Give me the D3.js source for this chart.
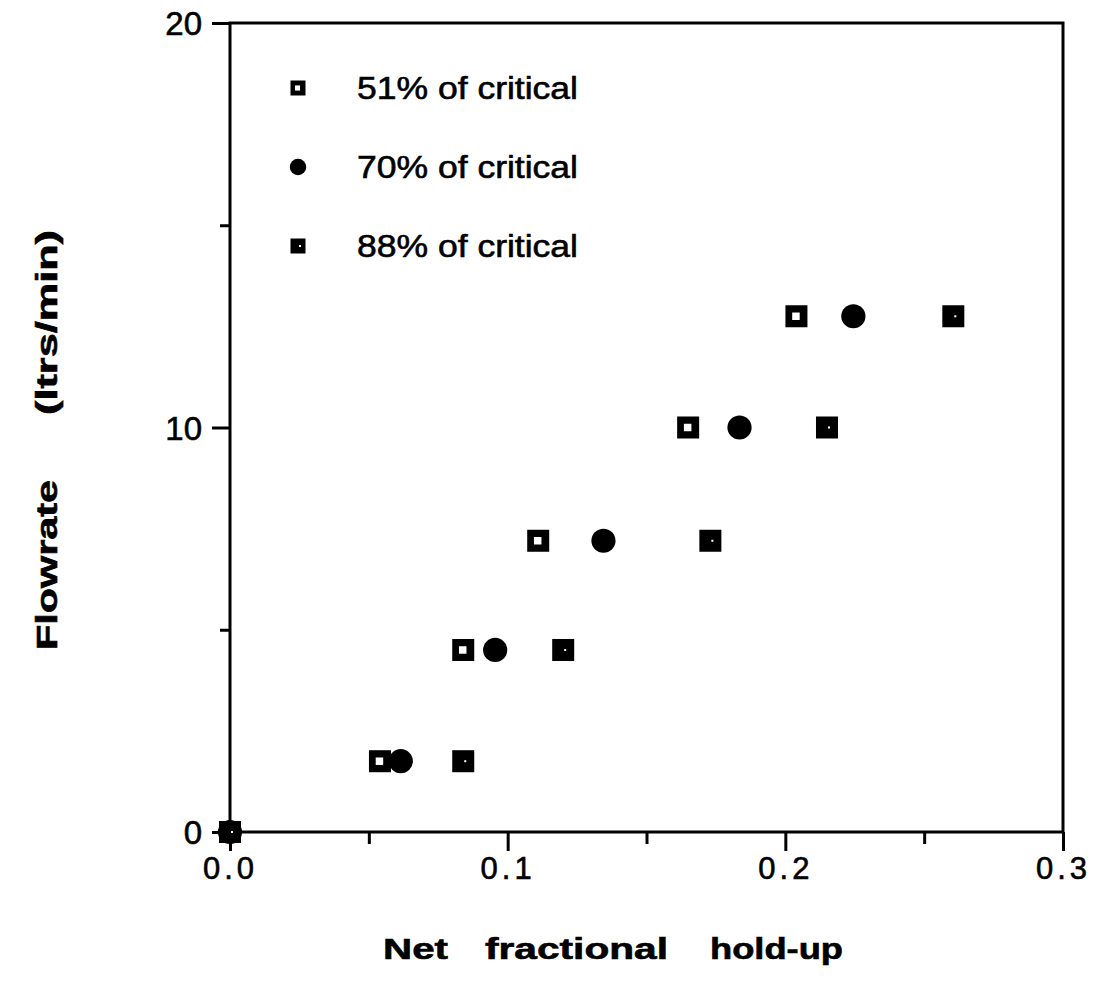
<!DOCTYPE html>
<html>
<head>
<meta charset="utf-8">
<script src="https://cdn.jsdelivr.net/npm/d3@7"></script>
<style>
  html, body { margin: 0; padding: 0; background: #fff; }
  svg { display: block; }
  text { font-family: "Liberation Sans", Arial, Helvetica, sans-serif; fill: #000; stroke: #000; stroke-width: 0.6px; }
</style>
</head>
<body>
<svg id="chart" width="1104" height="1001"></svg>
<script>
// Flowrate (ltrs/min) at which hold-up was measured
const flowrates = [0, 1.75, 4.5, 7.2, 10, 12.75];

// Net fractional hold-up for each level of critical speed
const holdup51 = [0, 0.054, 0.084, 0.111, 0.165, 0.204];
const holdup70 = [0, 0.0615, 0.0955, 0.1345, 0.1835, 0.2245];
const holdup88 = [0, 0.084, 0.120, 0.173, 0.215, 0.2605];

const seriesNames = ["51% of critical", "70% of critical", "88% of critical"];
const seriesShapes = ["hollowSquare", "dot", "solidSquare"];

const xMajorTicks = [0.0, 0.1, 0.2, 0.3];
const xMinorTicks = [0.05, 0.15, 0.25];
const yMajorTicks = [0, 10, 20];
const yMinorTicks = [5, 15];

(function () {
  const svg = d3.select("#chart");
  const plotL = 230, plotR = 1063, plotT = 23, plotB = 832;

  const x = d3.scaleLinear().domain([0, 0.3]).range([plotL, plotR]);
  const y = d3.scaleLinear().domain([0, 20]).range([plotB, plotT]);

  // frame
  svg.append("rect")
    .attr("x", plotL).attr("y", plotT)
    .attr("width", plotR - plotL).attr("height", plotB - plotT)
    .attr("fill", "none").attr("stroke", "#000").attr("stroke-width", 3);

  // bottom axis: labelled major ticks plus short minor ticks
  const xAxis = d3.axisBottom(x).tickValues(xMajorTicks).tickSize(19).tickPadding(6)
    .tickFormat(d3.format(".1f"));
  const gx = svg.append("g").attr("transform", `translate(0,${plotB})`).call(xAxis);
  gx.select(".domain").remove();
  gx.selectAll(".tick line").attr("stroke", "#000").attr("stroke-width", 3);
  gx.selectAll(".tick text")
    .attr("fill", "#000")
    .style("font-size", "31px").style("letter-spacing", "4px")
    .attr("dy", "0.71em");

  const gxm = svg.append("g").attr("transform", `translate(0,${plotB})`)
    .call(d3.axisBottom(x).tickValues(xMinorTicks).tickSize(12).tickFormat(""));
  gxm.select(".domain").remove();
  gxm.selectAll(".tick line").attr("stroke", "#000").attr("stroke-width", 3);

  // left axis
  const yAxis = d3.axisLeft(y).tickValues(yMajorTicks).tickSize(18).tickPadding(10)
    .tickFormat(d3.format("d"));
  const gy = svg.append("g").attr("transform", `translate(${plotL},0)`).call(yAxis);
  gy.select(".domain").remove();
  gy.selectAll(".tick line").attr("stroke", "#000").attr("stroke-width", 3);
  gy.selectAll(".tick text").attr("fill", "#000").style("font-size", "33px").attr("dy", "0.36em");

  const gym = svg.append("g").attr("transform", `translate(${plotL},0)`)
    .call(d3.axisLeft(y).tickValues(yMinorTicks).tickSize(10).tickFormat(""));
  gym.select(".domain").remove();
  gym.selectAll(".tick line").attr("stroke", "#000").attr("stroke-width", 3);

  // marker drawing
  function drawMarker(g, shape, cx, cy, s) {
    const h = s / 2;
    if (shape === "hollowSquare") {
      g.append("rect").attr("x", cx - h).attr("y", cy - h).attr("width", s).attr("height", s).attr("fill", "#000");
      const w = s * 0.34;
      g.append("rect").attr("x", cx - w / 2 - 0.5).attr("y", cy - w / 2).attr("width", w).attr("height", w).attr("fill", "#fff");
    } else if (shape === "dot") {
      g.append("path")
        .attr("transform", `translate(${cx},${cy})`)
        .attr("d", d3.symbol(d3.symbolCircle, Math.PI * (s * 0.55) * (s * 0.55))())
        .attr("fill", "#000");
    } else {
      g.append("rect").attr("x", cx - h).attr("y", cy - h).attr("width", s).attr("height", s).attr("fill", "#000");
      g.append("rect").attr("x", cx + 1).attr("y", cy - 1).attr("width", 2).attr("height", 2).attr("fill", "#fff");
    }
  }

  const series = [holdup51, holdup70, holdup88];
  const pts = svg.append("g");
  series.forEach((vals, i) => {
    vals.forEach((v, j) => {
      drawMarker(pts, seriesShapes[i], x(v), y(flowrates[j]), 22);
    });
  });

  // legend
  const legendY = [88, 167, 246];
  const legend = svg.append("g");
  seriesNames.forEach((name, i) => {
    drawMarker(legend, seriesShapes[i], 298, legendY[i], 15);
    legend.append("text")
      .attr("x", 357).attr("y", legendY[i])
      .attr("dy", "0.36em")
      .attr("textLength", 221).attr("lengthAdjust", "spacingAndGlyphs")
      .style("font-size", "31px")
      .text(name);
  });

  // axis titles, word by word with wide spacing
  const xTitle = [["Net", 383, 65], ["fractional", 485, 183], ["hold-up", 710, 133]];
  xTitle.forEach(([w, x0, len]) => {
    svg.append("text").attr("x", x0).attr("y", 959)
      .attr("textLength", len).attr("lengthAdjust", "spacingAndGlyphs")
      .style("font-size", "29px").style("font-weight", "bold")
      .text(w);
  });

  const yTitle = [["Flowrate", 650, 170], ["(ltrs/min)", 415, 185]];
  yTitle.forEach(([w, y0, len]) => {
    svg.append("text")
      .attr("transform", `translate(57,${y0}) rotate(-90)`)
      .attr("textLength", len).attr("lengthAdjust", "spacingAndGlyphs")
      .style("font-size", "29px").style("font-weight", "bold")
      .text(w);
  });
})();
</script>
</body>
</html>
